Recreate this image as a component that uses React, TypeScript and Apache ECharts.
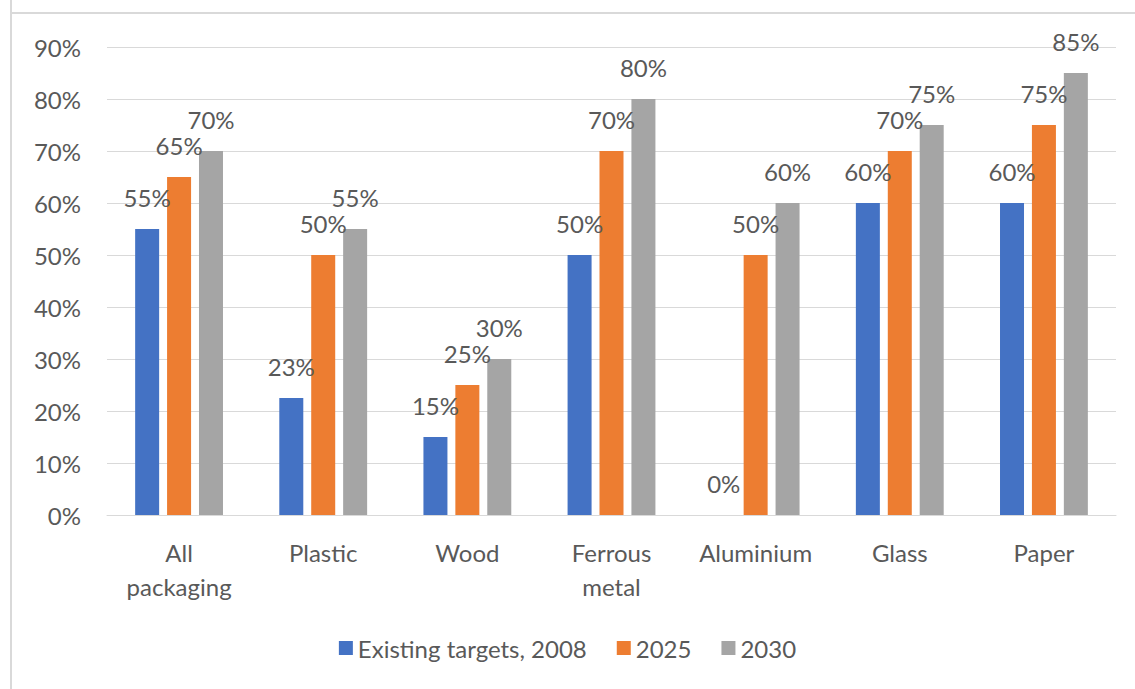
import React, { useEffect, useRef } from "react";
import * as echarts from "echarts";

const categories = ["All\npackaging", "Plastic", "Wood", "Ferrous\nmetal", "Aluminium", "Glass", "Paper"];
const seriesNames = ["Existing targets, 2008", "2025", "2030"];
const existing2008 = [55, 22.5, 15, 50, 0, 60, 60];
const target2025 = [65, 50, 25, 70, 50, 70, 75];
const target2030 = [70, 55, 30, 80, 60, 75, 85];
const colors = ["#4472C4", "#ED7D31", "#A5A5A5"];
const yTicks = [0, 10, 20, 30, 40, 50, 60, 70, 80, 90];

const FONT = "Lato";
const TEXT = "#595959";

export default function App() {
  const ref = useRef<HTMLDivElement>(null);
  useEffect(() => {
    document.body.style.margin = "0";
    const chart = echarts.init(ref.current!, null, { renderer: "svg" });
    const data = [existing2008, target2025, target2030];
    chart.setOption({
      animation: false,
      backgroundColor: "#ffffff",
      textStyle: { fontFamily: FONT },
      graphic: [
        { type: "line", shape: { x1: 11, y1: 0, x2: 11, y2: 2000 }, style: { stroke: "#D9D9D9", lineWidth: 2 } },
        { type: "line", shape: { x1: 11, y1: 13, x2: 2000, y2: 13 }, style: { stroke: "#D9D9D9", lineWidth: 2 } },
      ],
      grid: { left: 107, right: 19, top: 47, bottom: 174 },
      legend: {
        bottom: 24,
        left: "center",
        itemWidth: 14,
        itemHeight: 14,
        itemGap: 30,
        icon: "rect",
        data: seriesNames,
        textStyle: { fontFamily: FONT, fontSize: 24, color: TEXT },
      },
      xAxis: {
        type: "category",
        data: categories,
        axisTick: { show: false },
        axisLine: { lineStyle: { color: "#D9D9D9", width: 1 } },
        axisLabel: { fontFamily: FONT, fontSize: 24, color: TEXT, margin: 20, lineHeight: 34, interval: 0 },
      },
      yAxis: {
        type: "value",
        min: yTicks[0],
        max: yTicks[yTicks.length - 1],
        interval: 10,
        axisLine: { show: false },
        axisTick: { show: false },
        splitLine: { lineStyle: { color: "#D9D9D9", width: 1 } },
        axisLabel: { fontFamily: FONT, fontSize: 24, color: TEXT, margin: 26, formatter: (v: number) => v + "%" },
      },
      series: seriesNames.map((name, i) => ({
        name,
        type: "bar",
        data: data[i],
        barWidth: 24,
        barGap: "33%",
        itemStyle: { color: colors[i] },
        label: {
          show: true,
          position: "top",
          distance: 20,
          fontFamily: FONT,
          fontSize: 24,
          color: TEXT,
          formatter: (p: any) => Math.round(p.value) + "%",
        },
      })),
    });
    return () => chart.dispose();
  }, []);
  return <div ref={ref} style={{ width: 1135, height: 689 }} />;
}
